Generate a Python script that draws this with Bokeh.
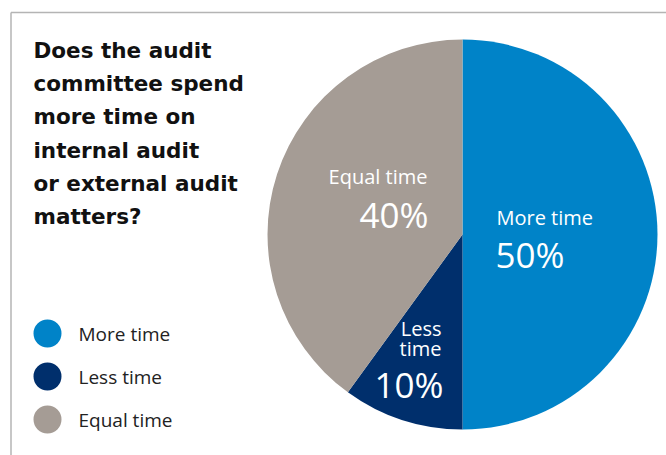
import math
from bokeh.plotting import figure
from bokeh.models import Range1d, ColumnDataSource
from bokeh.core.properties import value
from bokeh.embed import file_html
from bokeh.resources import INLINE

# ---- data ----
categories = ["More time", "Less time", "Equal time"]
shares = [50, 10, 40]
colors = ["#0083C8", "#002F6C", "#A59C95"]
title_lines = ["Does the audit", "committee spend", "more time on",
               "internal audit", "or external audit", "matters?"]

W, H = 666, 455
p = figure(width=W, height=H, x_range=Range1d(0, W), y_range=Range1d(0, H),
           output_backend="svg", toolbar_location=None, min_border=0)
p.axis.visible = False
p.grid.visible = False
p.outline_line_color = None
p.background_fill_color = "white"
p.border_fill_color = "white"

def Y(sy):
    return H - sy

def TY(sy, size):
    # baseline correction for text rendering, proportional to font size
    return H - (sy - 0.35 * size)

# frame lines
p.line([10.5, 10.5], [Y(455), Y(12)], line_color="#B4B4B4", line_width=1.5)
p.line([10.5, 666], [Y(12), Y(12)], line_color="#B4B4B4", line_width=1.5)

# pie (start at top, clockwise)
cx, cy, r = 462, Y(234), 195
starts, ends = [], []
cur = 90.0
for s in shares:
    sweep = 360.0 * s / sum(shares)
    ends.append(math.radians(cur))
    starts.append(math.radians(cur - sweep))
    cur -= sweep
src = ColumnDataSource(dict(cat=categories, start=starts, end=ends, color=colors))
p.wedge(x=cx, y=cy, radius=r, start_angle="start", end_angle="end",
        fill_color="color", line_color=None, source=src)

# slice labels
font = value("Open Sans")
def lab(x, sy, txt, size, align):
    p.text(x=[x], y=[TY(sy, size)], text=[txt], text_font=font,
           text_font_size=f"{size}px", text_color="white", text_align=align,
           text_baseline="alphabetic")

pct = [f"{v}%" for v in shares]
lab(496, 224, categories[0], 20, "left")
lab(495, 266, pct[0], 35, "left")
lab(427, 183, categories[2], 20, "right")
lab(428, 226, pct[2], 35, "right")
lab(441, 335, "Less", 20, "right")
lab(441, 355, "time", 20, "right")
lab(443, 396, pct[1], 35, "right")

# title
for i, line in enumerate(title_lines):
    p.text(x=[33], y=[TY(57 + 33.2 * i, 20)], text=[line], text_font=value("DejaVu Sans"),
           text_font_style="bold", text_font_size="21.5px", text_color="#111111",
           text_align="left", text_baseline="alphabetic")

# legend
leg_y = [333, 376, 419]
p.scatter(x=[47] * 3, y=[Y(v) for v in leg_y], size=28, marker="circle",
          fill_color=colors, line_color=None)
p.text(x=[78] * 3, y=[TY(v + 7.5, 20) for v in leg_y], text=categories, text_font=font,
       text_font_size="19px", text_color="#222222", text_align="left",
       text_baseline="alphabetic")

open("out.html", "w").write(file_html(p, INLINE))
